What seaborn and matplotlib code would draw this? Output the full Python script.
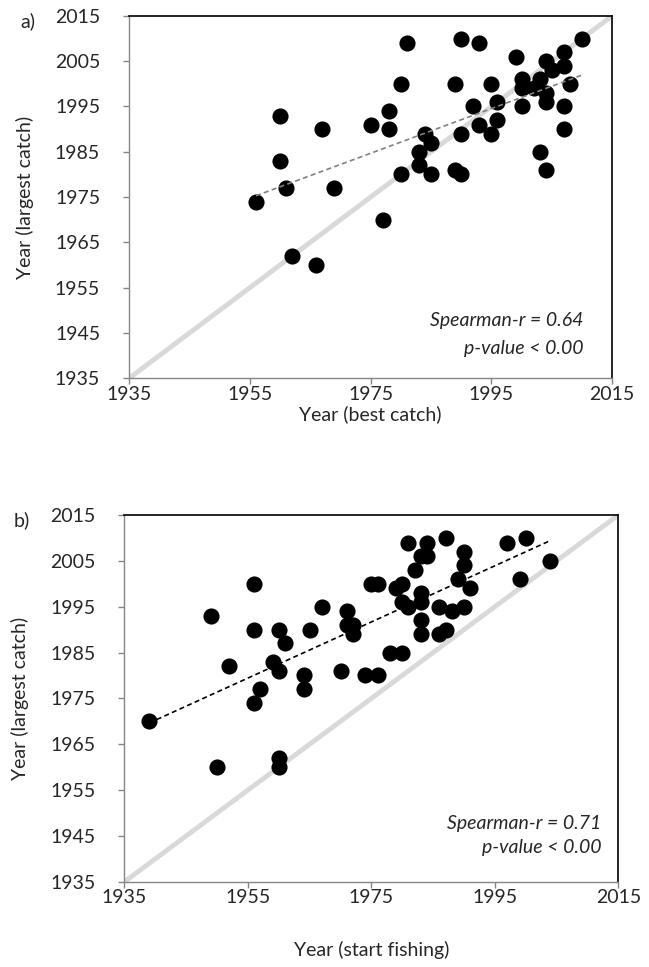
import numpy as np
import pandas as pd
import seaborn as sns
import matplotlib.pyplot as plt

# panel a: year of best catch vs year of largest catch
best_catch = [1960, 1967, 1975, 1960, 1961, 1969, 1956, 1962, 1966,
              1981, 1990, 1993, 2010, 1999, 2007, 2007, 2004, 2005,
              1980, 1989, 1995, 2000, 2000, 2003, 2002, 2004, 2004, 2008,
              2000, 2007, 2007, 1992, 1996, 1996, 1993, 1995, 1990,
              1978, 1978, 1984, 1985, 1983, 1983, 1980, 1985, 1989, 1990,
              2003, 2004, 1977]
largest_a = [1993, 1990, 1991, 1983, 1977, 1977, 1974, 1962, 1960,
             2009, 2010, 2009, 2010, 2006, 2007, 2004, 2005, 2003,
             2000, 2000, 2000, 2001, 1999, 2001, 1999, 1998, 1996, 2000,
             1995, 1995, 1990, 1995, 1996, 1992, 1991, 1989, 1989,
             1994, 1990, 1989, 1987, 1985, 1982, 1980, 1980, 1981, 1980,
             1985, 1981, 1970]

# panel b: year of start fishing vs year of largest catch
start_fishing = [1939, 1950, 1949, 1952, 1956, 1956, 1956, 1957, 1960, 1961,
                 1959, 1960, 1960, 1960, 1965, 1967, 1964, 1964, 1970, 1971,
                 1971, 1972, 1972, 1974, 1976, 1975, 1976, 1978, 1980, 1979,
                 1980, 1980, 1981, 1981, 1982, 1983, 1984, 1984, 1983, 1983,
                 1983, 1983, 1987, 1986, 1988, 1986, 1987, 1990, 1989, 1990,
                 1990, 1991, 1997, 2000, 1999, 2004]
largest_b = [1970, 1960, 1993, 1982, 2000, 1990, 1974, 1977, 1990, 1987,
             1983, 1981, 1962, 1960, 1990, 1995, 1980, 1977, 1981, 1994,
             1991, 1991, 1989, 1980, 1980, 2000, 2000, 1985, 1985, 1999,
             2000, 1996, 1995, 2009, 2003, 2006, 2009, 2006, 1998, 1996,
             1992, 1989, 2010, 1995, 1994, 1989, 1990, 1995, 2001, 2007,
             2004, 1999, 2009, 2010, 2001, 2005]

ticks = [1935, 1945, 1955, 1965, 1975, 1985, 1995, 2005, 2015]
xticks = [1935, 1955, 1975, 1995, 2015]

df_a = pd.DataFrame({'x': best_catch, 'y': largest_a})
df_b = pd.DataFrame({'x': start_fishing, 'y': largest_b})

sns.set_style('white')
plt.rcParams['font.family'] = ['Lato', 'DejaVu Sans']

fig = plt.figure(figsize=(6.49, 9.67), dpi=100)
ax_a = fig.add_axes([0.1992, 0.609, 0.744, 0.3745])
ax_b = fig.add_axes([0.1918, 0.0882, 0.761, 0.3792])

panels = [
    (ax_a, df_a, 'Year (best catch)', 'a)', '#808080', 'Spearman-r = 0.64',
     2, 0.94, 0.16, 0.083),
    (ax_b, df_b, 'Year (start fishing)', 'b)', 'black', 'Spearman-r = 0.71',
     25, 0.966, 0.16, 0.092),
]

for ax, df, xlabel, tag, trend_col, rho, xpad, tx, ty1, ty2 in panels:
    ax.plot([1935, 2015], [1935, 2015], color='#d9d9d9', lw=3.5, zorder=1,
            solid_capstyle='butt')
    sns.scatterplot(data=df, x='x', y='y', ax=ax, s=135, color='black',
                    edgecolor='black', linewidth=0, zorder=3)
    sns.regplot(data=df, x='x', y='y', ax=ax, scatter=False, ci=None,
                truncate=True,
                line_kws={'color': trend_col, 'lw': 1.2, 'ls': (0, (3, 2)),
                          'zorder': 4})
    ax.set_xlim(1935, 2015)
    ax.set_ylim(1935, 2015)
    ax.set_xticks(xticks)
    ax.set_yticks(ticks)
    ax.tick_params(axis='both', labelsize=14, length=4, width=1,
                   color='#868686', direction='out')
    ax.tick_params(axis='y', pad=17)
    ax.tick_params(axis='x', pad=1.5)
    ax.tick_params(bottom=True, left=True)
    for side in ['left', 'bottom']:
        ax.spines[side].set_color('#868686')
        ax.spines[side].set_linewidth(1)
    for side in ['top', 'right']:
        ax.spines[side].set_color('black')
        ax.spines[side].set_linewidth(1.2)
    ax.set_xlabel(xlabel, fontsize=14, labelpad=xpad)
    ax.set_ylabel('Year (largest catch)', fontsize=14, labelpad=15)
    ax.text(tx, ty1, rho, transform=ax.transAxes, ha='right', va='center',
            fontsize=14, style='italic')
    ax.text(tx, ty2, 'p-value < 0.00', transform=ax.transAxes, ha='right',
            va='center', fontsize=14, style='italic')
    ax.text(-0.225, 0.985, tag, transform=ax.transAxes, ha='left', va='center',
            fontsize=14)

fig.savefig('out.png', dpi=100)
